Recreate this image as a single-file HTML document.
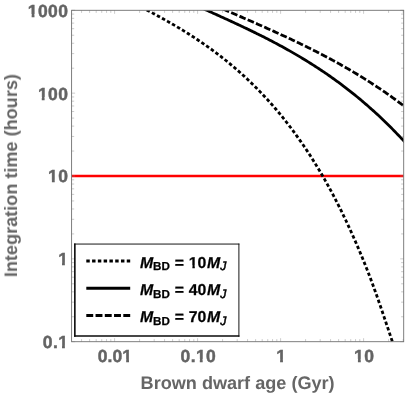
<!DOCTYPE html>
<html><head><meta charset="utf-8"><title>chart</title>
<style>
html,body{margin:0;padding:0;background:#fff;}
body{width:409px;height:394px;overflow:hidden;}
svg{display:block;font-family:"Liberation Sans",sans-serif;}
text{will-change:transform;text-rendering:geometricPrecision;}
.tl{font-size:17.5px;font-weight:bold;fill:#646464;stroke:#646464;stroke-width:0.45px;letter-spacing:0.4px;}
.al{font-size:18.1px;font-weight:bold;fill:#666;}
.lg{font-size:15.8px;font-weight:bold;fill:#000;stroke:#000;stroke-width:0.25px;word-spacing:0.5px;}
.sub{font-size:11.6px;}
</style></head><body>
<svg width="409" height="394" viewBox="0 0 409 394">
<rect width="409" height="394" fill="#fff"/>
<defs><clipPath id="c"><rect x="71.6" y="10.3" width="332.1" height="331.4"/></clipPath></defs>
<g clip-path="url(#c)" fill="none" stroke="#000" stroke-width="2.8">
<line x1="71.6" y1="176.0" x2="403.7" y2="176.0" stroke="#f00" stroke-width="2.6"/>
<path d="M140.00,6.35 L141.53,7.16 L143.07,7.97 L144.60,8.79 L146.14,9.60 L147.67,10.42 L149.21,11.23 L150.74,12.06 L152.28,12.88 L153.81,13.71 L155.35,14.54 L156.88,15.37 L158.42,16.21 L159.95,17.05 L161.49,17.90 L163.02,18.76 L164.56,19.61 L166.09,20.48 L167.63,21.35 L169.16,22.23 L170.70,23.11 L172.23,24.00 L173.77,24.89 L175.30,25.79 L176.84,26.70 L178.37,27.62 L179.91,28.54 L181.44,29.47 L182.98,30.40 L184.51,31.35 L186.05,32.30 L187.58,33.26 L189.12,34.23 L190.65,35.21 L192.18,36.20 L193.72,37.20 L195.25,38.20 L196.79,39.22 L198.32,40.24 L199.86,41.28 L201.39,42.32 L202.93,43.37 L204.46,44.44 L206.00,45.51 L207.53,46.60 L209.07,47.70 L210.60,48.80 L212.14,49.92 L213.67,51.05 L215.21,52.19 L216.74,53.35 L218.28,54.51 L219.81,55.69 L221.35,56.88 L222.88,58.08 L224.42,59.30 L225.95,60.53 L227.49,61.77 L229.02,63.03 L230.56,64.30 L232.09,65.58 L233.63,66.88 L235.16,68.19 L236.70,69.52 L238.23,70.86 L239.77,72.22 L241.30,73.59 L242.83,74.98 L244.37,76.38 L245.90,77.80 L247.44,79.24 L248.97,80.69 L250.51,82.16 L252.04,83.65 L253.58,85.16 L255.11,86.68 L256.65,88.22 L258.18,89.78 L259.72,91.36 L261.25,92.95 L262.79,94.57 L264.32,96.20 L265.86,97.86 L267.39,99.53 L268.93,101.22 L270.46,102.94 L272.00,104.68 L273.53,106.43 L275.07,108.21 L276.60,110.01 L278.14,111.84 L279.67,113.68 L281.21,115.55 L282.74,117.44 L284.28,119.36 L285.81,121.30 L287.35,123.26 L288.88,125.25 L290.41,127.26 L291.95,129.30 L293.48,131.36 L295.02,133.45 L296.55,135.56 L298.09,137.71 L299.62,139.88 L301.16,142.07 L302.69,144.30 L304.23,146.55 L305.76,148.84 L307.30,151.15 L308.83,153.49 L310.37,155.86 L311.90,158.27 L313.44,160.70 L314.97,163.17 L316.51,165.67 L318.04,168.20 L319.58,170.77 L321.11,173.36 L322.65,176.00 L324.18,178.67 L325.72,181.37 L327.25,184.11 L328.79,186.88 L330.32,189.70 L331.86,192.55 L333.39,195.44 L334.93,198.37 L336.46,201.34 L338.00,204.35 L339.53,207.40 L341.06,210.49 L342.60,213.63 L344.13,216.80 L345.67,220.02 L347.20,223.29 L348.74,226.59 L350.27,229.94 L351.81,233.33 L353.34,236.77 L354.88,240.25 L356.41,243.77 L357.95,247.33 L359.48,250.95 L361.02,254.61 L362.55,258.33 L364.09,262.10 L365.62,265.93 L367.16,269.82 L368.69,273.78 L370.23,277.80 L371.76,281.89 L373.30,286.06 L374.83,290.29 L376.37,294.59 L377.90,298.95 L379.44,303.36 L380.97,307.82 L382.51,312.31 L384.04,316.83 L385.58,321.38 L387.11,325.95 L388.65,330.52 L390.18,335.10 L391.71,339.67 L393.25,344.24 L394.78,348.78 L396.32,353.31 L397.85,357.80 L399.39,362.25" stroke-dasharray="3.45 2.33" stroke-dashoffset="3.9"/>
<path d="M189.88,2.68 L191.17,3.26 L192.46,3.85 L193.75,4.43 L195.04,5.01 L196.33,5.59 L197.62,6.18 L198.91,6.76 L200.20,7.34 L201.49,7.92 L202.78,8.50 L204.08,9.09 L205.37,9.67 L206.66,10.25 L207.95,10.83 L209.24,11.41 L210.53,11.99 L211.82,12.57 L213.11,13.16 L214.40,13.74 L215.69,14.32 L216.98,14.90 L218.27,15.49 L219.56,16.07 L220.85,16.66 L222.14,17.24 L223.44,17.83 L224.73,18.42 L226.02,19.01 L227.31,19.60 L228.60,20.19 L229.89,20.78 L231.18,21.38 L232.47,21.97 L233.76,22.57 L235.05,23.17 L236.34,23.77 L237.63,24.38 L238.92,24.98 L240.21,25.59 L241.50,26.19 L242.80,26.80 L244.09,27.41 L245.38,28.03 L246.67,28.64 L247.96,29.26 L249.25,29.88 L250.54,30.50 L251.83,31.13 L253.12,31.75 L254.41,32.38 L255.70,33.02 L256.99,33.65 L258.28,34.29 L259.57,34.93 L260.86,35.58 L262.16,36.22 L263.45,36.87 L264.74,37.53 L266.03,38.19 L267.32,38.85 L268.61,39.51 L269.90,40.18 L271.19,40.85 L272.48,41.52 L273.77,42.20 L275.06,42.88 L276.35,43.57 L277.64,44.26 L278.93,44.95 L280.22,45.65 L281.52,46.35 L282.81,47.06 L284.10,47.77 L285.39,48.48 L286.68,49.20 L287.97,49.92 L289.26,50.65 L290.55,51.38 L291.84,52.12 L293.13,52.86 L294.42,53.60 L295.71,54.35 L297.00,55.11 L298.29,55.87 L299.58,56.63 L300.87,57.40 L302.17,58.18 L303.46,58.96 L304.75,59.74 L306.04,60.53 L307.33,61.33 L308.62,62.13 L309.91,62.94 L311.20,63.75 L312.49,64.57 L313.78,65.39 L315.07,66.22 L316.36,67.06 L317.65,67.90 L318.94,68.74 L320.23,69.60 L321.53,70.46 L322.82,71.32 L324.11,72.20 L325.40,73.08 L326.69,73.96 L327.98,74.85 L329.27,75.75 L330.56,76.66 L331.85,77.57 L333.14,78.49 L334.43,79.41 L335.72,80.34 L337.01,81.28 L338.30,82.23 L339.59,83.18 L340.89,84.14 L342.18,85.11 L343.47,86.08 L344.76,87.06 L346.05,88.05 L347.34,89.05 L348.63,90.05 L349.92,91.06 L351.21,92.08 L352.50,93.11 L353.79,94.14 L355.08,95.18 L356.37,96.23 L357.66,97.29 L358.95,98.36 L360.25,99.43 L361.54,100.52 L362.83,101.61 L364.12,102.71 L365.41,103.82 L366.70,104.93 L367.99,106.05 L369.28,107.19 L370.57,108.33 L371.86,109.47 L373.15,110.63 L374.44,111.79 L375.73,112.97 L377.02,114.15 L378.31,115.34 L379.61,116.54 L380.90,117.75 L382.19,118.96 L383.48,120.19 L384.77,121.44 L386.06,122.69 L387.35,123.95 L388.64,125.22 L389.93,126.51 L391.22,127.81 L392.51,129.12 L393.80,130.44 L395.09,131.77 L396.38,133.11 L397.67,134.45 L398.97,135.80 L400.26,137.15 L401.55,138.51 L402.84,139.88 L404.13,141.24 L405.42,142.61 L406.71,143.98 L408.00,145.34"/>
<path d="M206.50,1.72 L207.70,2.25 L208.89,2.77 L210.08,3.30 L211.27,3.82 L212.47,4.35 L213.66,4.88 L214.85,5.40 L216.04,5.93 L217.23,6.45 L218.43,6.98 L219.62,7.50 L220.81,8.02 L222.00,8.55 L223.20,9.07 L224.39,9.59 L225.58,10.11 L226.77,10.63 L227.97,11.15 L229.16,11.67 L230.35,12.19 L231.54,12.71 L232.73,13.23 L233.93,13.75 L235.12,14.27 L236.31,14.79 L237.50,15.31 L238.70,15.83 L239.89,16.35 L241.08,16.87 L242.27,17.39 L243.46,17.91 L244.66,18.43 L245.85,18.95 L247.04,19.47 L248.23,19.99 L249.43,20.51 L250.62,21.03 L251.81,21.55 L253.00,22.08 L254.20,22.60 L255.39,23.12 L256.58,23.65 L257.77,24.17 L258.96,24.70 L260.16,25.23 L261.35,25.75 L262.54,26.28 L263.73,26.81 L264.93,27.34 L266.12,27.88 L267.31,28.41 L268.50,28.94 L269.70,29.48 L270.89,30.01 L272.08,30.55 L273.27,31.09 L274.46,31.63 L275.66,32.17 L276.85,32.71 L278.04,33.26 L279.23,33.80 L280.43,34.35 L281.62,34.90 L282.81,35.45 L284.00,36.00 L285.19,36.55 L286.39,37.10 L287.58,37.66 L288.77,38.22 L289.96,38.78 L291.16,39.34 L292.35,39.90 L293.54,40.46 L294.73,41.03 L295.93,41.60 L297.12,42.17 L298.31,42.74 L299.50,43.32 L300.69,43.89 L301.89,44.47 L303.08,45.05 L304.27,45.63 L305.46,46.22 L306.66,46.81 L307.85,47.40 L309.04,47.99 L310.23,48.58 L311.42,49.18 L312.62,49.78 L313.81,50.38 L315.00,50.98 L316.19,51.59 L317.39,52.20 L318.58,52.81 L319.77,53.42 L320.96,54.04 L322.16,54.66 L323.35,55.28 L324.54,55.91 L325.73,56.54 L326.92,57.17 L328.12,57.80 L329.31,58.44 L330.50,59.08 L331.69,59.72 L332.89,60.37 L334.08,61.02 L335.27,61.67 L336.46,62.33 L337.66,62.99 L338.85,63.65 L340.04,64.32 L341.23,64.98 L342.42,65.66 L343.62,66.33 L344.81,67.01 L346.00,67.70 L347.19,68.38 L348.39,69.07 L349.58,69.77 L350.77,70.46 L351.96,71.16 L353.15,71.87 L354.35,72.58 L355.54,73.29 L356.73,74.01 L357.92,74.73 L359.12,75.45 L360.31,76.18 L361.50,76.92 L362.69,77.65 L363.89,78.39 L365.08,79.14 L366.27,79.89 L367.46,80.64 L368.65,81.40 L369.85,82.16 L371.04,82.93 L372.23,83.70 L373.42,84.47 L374.62,85.25 L375.81,86.03 L377.00,86.81 L378.19,87.61 L379.39,88.40 L380.58,89.20 L381.77,90.01 L382.96,90.82 L384.15,91.63 L385.35,92.46 L386.54,93.29 L387.73,94.12 L388.92,94.96 L390.12,95.81 L391.31,96.66 L392.50,97.52 L393.69,98.38 L394.88,99.25 L396.08,100.13 L397.27,101.00 L398.46,101.88 L399.65,102.77 L400.85,103.65 L402.04,104.54 L403.23,105.43 L404.42,106.32 L405.62,107.21 L406.81,108.10 L408.00,108.99" stroke-dasharray="6.7 2.3"/>
</g>
<g stroke="#8c8c8c" stroke-width="0.45">
<line x1="81.57" y1="341.70" x2="81.57" y2="339.10"/>
<line x1="81.57" y1="10.30" x2="81.57" y2="12.90"/>
<line x1="89.61" y1="341.70" x2="89.61" y2="339.10"/>
<line x1="89.61" y1="10.30" x2="89.61" y2="12.90"/>
<line x1="96.19" y1="341.70" x2="96.19" y2="339.10"/>
<line x1="96.19" y1="10.30" x2="96.19" y2="12.90"/>
<line x1="101.74" y1="341.70" x2="101.74" y2="339.10"/>
<line x1="101.74" y1="10.30" x2="101.74" y2="12.90"/>
<line x1="106.56" y1="341.70" x2="106.56" y2="339.10"/>
<line x1="106.56" y1="10.30" x2="106.56" y2="12.90"/>
<line x1="110.80" y1="341.70" x2="110.80" y2="339.10"/>
<line x1="110.80" y1="10.30" x2="110.80" y2="12.90"/>
<line x1="114.60" y1="341.70" x2="114.60" y2="338.20"/>
<line x1="114.60" y1="10.30" x2="114.60" y2="13.80"/>
<line x1="139.59" y1="341.70" x2="139.59" y2="339.10"/>
<line x1="139.59" y1="10.30" x2="139.59" y2="12.90"/>
<line x1="154.20" y1="341.70" x2="154.20" y2="339.10"/>
<line x1="154.20" y1="10.30" x2="154.20" y2="12.90"/>
<line x1="164.57" y1="341.70" x2="164.57" y2="339.10"/>
<line x1="164.57" y1="10.30" x2="164.57" y2="12.90"/>
<line x1="172.61" y1="341.70" x2="172.61" y2="339.10"/>
<line x1="172.61" y1="10.30" x2="172.61" y2="12.90"/>
<line x1="179.19" y1="341.70" x2="179.19" y2="339.10"/>
<line x1="179.19" y1="10.30" x2="179.19" y2="12.90"/>
<line x1="184.74" y1="341.70" x2="184.74" y2="339.10"/>
<line x1="184.74" y1="10.30" x2="184.74" y2="12.90"/>
<line x1="189.56" y1="341.70" x2="189.56" y2="339.10"/>
<line x1="189.56" y1="10.30" x2="189.56" y2="12.90"/>
<line x1="193.80" y1="341.70" x2="193.80" y2="339.10"/>
<line x1="193.80" y1="10.30" x2="193.80" y2="12.90"/>
<line x1="197.60" y1="341.70" x2="197.60" y2="338.20"/>
<line x1="197.60" y1="10.30" x2="197.60" y2="13.80"/>
<line x1="222.59" y1="341.70" x2="222.59" y2="339.10"/>
<line x1="222.59" y1="10.30" x2="222.59" y2="12.90"/>
<line x1="237.20" y1="341.70" x2="237.20" y2="339.10"/>
<line x1="237.20" y1="10.30" x2="237.20" y2="12.90"/>
<line x1="247.57" y1="341.70" x2="247.57" y2="339.10"/>
<line x1="247.57" y1="10.30" x2="247.57" y2="12.90"/>
<line x1="255.61" y1="341.70" x2="255.61" y2="339.10"/>
<line x1="255.61" y1="10.30" x2="255.61" y2="12.90"/>
<line x1="262.19" y1="341.70" x2="262.19" y2="339.10"/>
<line x1="262.19" y1="10.30" x2="262.19" y2="12.90"/>
<line x1="267.74" y1="341.70" x2="267.74" y2="339.10"/>
<line x1="267.74" y1="10.30" x2="267.74" y2="12.90"/>
<line x1="272.56" y1="341.70" x2="272.56" y2="339.10"/>
<line x1="272.56" y1="10.30" x2="272.56" y2="12.90"/>
<line x1="276.80" y1="341.70" x2="276.80" y2="339.10"/>
<line x1="276.80" y1="10.30" x2="276.80" y2="12.90"/>
<line x1="280.60" y1="341.70" x2="280.60" y2="338.20"/>
<line x1="280.60" y1="10.30" x2="280.60" y2="13.80"/>
<line x1="305.59" y1="341.70" x2="305.59" y2="339.10"/>
<line x1="305.59" y1="10.30" x2="305.59" y2="12.90"/>
<line x1="320.20" y1="341.70" x2="320.20" y2="339.10"/>
<line x1="320.20" y1="10.30" x2="320.20" y2="12.90"/>
<line x1="330.57" y1="341.70" x2="330.57" y2="339.10"/>
<line x1="330.57" y1="10.30" x2="330.57" y2="12.90"/>
<line x1="338.61" y1="341.70" x2="338.61" y2="339.10"/>
<line x1="338.61" y1="10.30" x2="338.61" y2="12.90"/>
<line x1="345.19" y1="341.70" x2="345.19" y2="339.10"/>
<line x1="345.19" y1="10.30" x2="345.19" y2="12.90"/>
<line x1="350.74" y1="341.70" x2="350.74" y2="339.10"/>
<line x1="350.74" y1="10.30" x2="350.74" y2="12.90"/>
<line x1="355.56" y1="341.70" x2="355.56" y2="339.10"/>
<line x1="355.56" y1="10.30" x2="355.56" y2="12.90"/>
<line x1="359.80" y1="341.70" x2="359.80" y2="339.10"/>
<line x1="359.80" y1="10.30" x2="359.80" y2="12.90"/>
<line x1="363.60" y1="341.70" x2="363.60" y2="338.20"/>
<line x1="363.60" y1="10.30" x2="363.60" y2="13.80"/>
<line x1="388.59" y1="341.70" x2="388.59" y2="339.10"/>
<line x1="388.59" y1="10.30" x2="388.59" y2="12.90"/>
<line x1="403.20" y1="341.70" x2="403.20" y2="339.10"/>
<line x1="403.20" y1="10.30" x2="403.20" y2="12.90"/>
<line x1="71.60" y1="341.70" x2="75.10" y2="341.70"/>
<line x1="403.70" y1="341.70" x2="400.20" y2="341.70"/>
<line x1="71.60" y1="316.76" x2="74.20" y2="316.76"/>
<line x1="403.70" y1="316.76" x2="401.10" y2="316.76"/>
<line x1="71.60" y1="302.17" x2="74.20" y2="302.17"/>
<line x1="403.70" y1="302.17" x2="401.10" y2="302.17"/>
<line x1="71.60" y1="291.82" x2="74.20" y2="291.82"/>
<line x1="403.70" y1="291.82" x2="401.10" y2="291.82"/>
<line x1="71.60" y1="283.79" x2="74.20" y2="283.79"/>
<line x1="403.70" y1="283.79" x2="401.10" y2="283.79"/>
<line x1="71.60" y1="277.23" x2="74.20" y2="277.23"/>
<line x1="403.70" y1="277.23" x2="401.10" y2="277.23"/>
<line x1="71.60" y1="271.68" x2="74.20" y2="271.68"/>
<line x1="403.70" y1="271.68" x2="401.10" y2="271.68"/>
<line x1="71.60" y1="266.88" x2="74.20" y2="266.88"/>
<line x1="403.70" y1="266.88" x2="401.10" y2="266.88"/>
<line x1="71.60" y1="262.64" x2="74.20" y2="262.64"/>
<line x1="403.70" y1="262.64" x2="401.10" y2="262.64"/>
<line x1="71.60" y1="258.85" x2="75.10" y2="258.85"/>
<line x1="403.70" y1="258.85" x2="400.20" y2="258.85"/>
<line x1="71.60" y1="233.91" x2="74.20" y2="233.91"/>
<line x1="403.70" y1="233.91" x2="401.10" y2="233.91"/>
<line x1="71.60" y1="219.32" x2="74.20" y2="219.32"/>
<line x1="403.70" y1="219.32" x2="401.10" y2="219.32"/>
<line x1="71.60" y1="208.97" x2="74.20" y2="208.97"/>
<line x1="403.70" y1="208.97" x2="401.10" y2="208.97"/>
<line x1="71.60" y1="200.94" x2="74.20" y2="200.94"/>
<line x1="403.70" y1="200.94" x2="401.10" y2="200.94"/>
<line x1="71.60" y1="194.38" x2="74.20" y2="194.38"/>
<line x1="403.70" y1="194.38" x2="401.10" y2="194.38"/>
<line x1="71.60" y1="188.83" x2="74.20" y2="188.83"/>
<line x1="403.70" y1="188.83" x2="401.10" y2="188.83"/>
<line x1="71.60" y1="184.03" x2="74.20" y2="184.03"/>
<line x1="403.70" y1="184.03" x2="401.10" y2="184.03"/>
<line x1="71.60" y1="179.79" x2="74.20" y2="179.79"/>
<line x1="403.70" y1="179.79" x2="401.10" y2="179.79"/>
<line x1="71.60" y1="176.00" x2="75.10" y2="176.00"/>
<line x1="403.70" y1="176.00" x2="400.20" y2="176.00"/>
<line x1="71.60" y1="151.06" x2="74.20" y2="151.06"/>
<line x1="403.70" y1="151.06" x2="401.10" y2="151.06"/>
<line x1="71.60" y1="136.47" x2="74.20" y2="136.47"/>
<line x1="403.70" y1="136.47" x2="401.10" y2="136.47"/>
<line x1="71.60" y1="126.12" x2="74.20" y2="126.12"/>
<line x1="403.70" y1="126.12" x2="401.10" y2="126.12"/>
<line x1="71.60" y1="118.09" x2="74.20" y2="118.09"/>
<line x1="403.70" y1="118.09" x2="401.10" y2="118.09"/>
<line x1="71.60" y1="111.53" x2="74.20" y2="111.53"/>
<line x1="403.70" y1="111.53" x2="401.10" y2="111.53"/>
<line x1="71.60" y1="105.98" x2="74.20" y2="105.98"/>
<line x1="403.70" y1="105.98" x2="401.10" y2="105.98"/>
<line x1="71.60" y1="101.18" x2="74.20" y2="101.18"/>
<line x1="403.70" y1="101.18" x2="401.10" y2="101.18"/>
<line x1="71.60" y1="96.94" x2="74.20" y2="96.94"/>
<line x1="403.70" y1="96.94" x2="401.10" y2="96.94"/>
<line x1="71.60" y1="93.15" x2="75.10" y2="93.15"/>
<line x1="403.70" y1="93.15" x2="400.20" y2="93.15"/>
<line x1="71.60" y1="68.21" x2="74.20" y2="68.21"/>
<line x1="403.70" y1="68.21" x2="401.10" y2="68.21"/>
<line x1="71.60" y1="53.62" x2="74.20" y2="53.62"/>
<line x1="403.70" y1="53.62" x2="401.10" y2="53.62"/>
<line x1="71.60" y1="43.27" x2="74.20" y2="43.27"/>
<line x1="403.70" y1="43.27" x2="401.10" y2="43.27"/>
<line x1="71.60" y1="35.24" x2="74.20" y2="35.24"/>
<line x1="403.70" y1="35.24" x2="401.10" y2="35.24"/>
<line x1="71.60" y1="28.68" x2="74.20" y2="28.68"/>
<line x1="403.70" y1="28.68" x2="401.10" y2="28.68"/>
<line x1="71.60" y1="23.13" x2="74.20" y2="23.13"/>
<line x1="403.70" y1="23.13" x2="401.10" y2="23.13"/>
<line x1="71.60" y1="18.33" x2="74.20" y2="18.33"/>
<line x1="403.70" y1="18.33" x2="401.10" y2="18.33"/>
<line x1="71.60" y1="14.09" x2="74.20" y2="14.09"/>
<line x1="403.70" y1="14.09" x2="401.10" y2="14.09"/>
<line x1="71.60" y1="10.30" x2="75.10" y2="10.30"/>
<line x1="403.70" y1="10.30" x2="400.20" y2="10.30"/>
</g>
<rect x="71.6" y="10.3" width="332.1" height="331.4" fill="none" stroke="#707070" stroke-width="0.9"/>
<!-- legend -->
<rect x="74.1" y="243.6" width="165.3" height="93.2" fill="#fff"/>
<g stroke="#0a0a0a" fill="none">
<line x1="74.05" y1="244.05" x2="239.4" y2="244.05" stroke-width="0.95"/>
<line x1="238.9" y1="243.6" x2="238.9" y2="336.85" stroke-width="0.95"/>
<line x1="74.85" y1="243.6" x2="74.85" y2="336.85" stroke-width="1.6"/>
<line x1="74.05" y1="336.05" x2="239.4" y2="336.05" stroke-width="1.6"/>
</g>
<g stroke="#000" stroke-width="2.8" fill="none">
<line x1="86.3" y1="261.0" x2="130.2" y2="261.0" stroke-dasharray="3.45 2.33"/>
<line x1="86.3" y1="288.25" x2="130.2" y2="288.25"/>
<line x1="86.3" y1="315.5" x2="130.2" y2="315.5" stroke-dasharray="6.9 2.35"/>
</g>
<g class="lg">
<text x="139.9" y="267.65"><tspan font-style="italic">M</tspan><tspan class="sub" dy="2.8">BD</tspan><tspan dy="-2.8"> = 10</tspan><tspan font-style="italic" dx="0.6">M</tspan><tspan class="sub" style="font-size:12.2px" font-style="italic" font-weight="normal" stroke-width="0.5" dy="2.8">J</tspan></text>
<text x="139.9" y="294.9"><tspan font-style="italic">M</tspan><tspan class="sub" dy="2.8">BD</tspan><tspan dy="-2.8"> = 40</tspan><tspan font-style="italic" dx="0.6">M</tspan><tspan class="sub" style="font-size:12.2px" font-style="italic" font-weight="normal" stroke-width="0.5" dy="2.8">J</tspan></text>
<text x="139.9" y="322.15"><tspan font-style="italic">M</tspan><tspan class="sub" dy="2.8">BD</tspan><tspan dy="-2.8"> = 70</tspan><tspan font-style="italic" dx="0.6">M</tspan><tspan class="sub" style="font-size:12.2px" font-style="italic" font-weight="normal" stroke-width="0.5" dy="2.8">J</tspan></text>
</g>
<!-- y tick labels -->
<g class="tl" text-anchor="end">
<text x="68.3" y="16.75">1000</text>
<text x="68.3" y="99.60">100</text>
<text x="68.3" y="182.45">10</text>
<text x="68.3" y="265.30">1</text>
<text x="68.3" y="348.15">0.1</text>
</g>
<g class="tl" text-anchor="middle">
<text style="letter-spacing:0.1px" x="114.9" y="361.5">0.01</text>
<text x="198.4" y="361.5">0.10</text>
<text x="281.3" y="361.5">1</text>
<text x="364.2" y="361.5">10</text>
</g>
<text class="al" text-anchor="middle" x="237.6" y="388.85">Brown dwarf age (Gyr)</text>
<text class="al" text-anchor="middle" transform="translate(17.0,175.6) rotate(-90)">Integration time (hours)</text>
<g fill="#fff">
<rect x="188.49" y="265.31" width="3.89" height="4.06"/>
<rect x="194.80" y="265.31" width="3.39" height="4.06"/>
<rect x="27.45" y="14.14" width="4.18" height="4.44"/>
<rect x="34.48" y="14.14" width="3.66" height="4.44"/>
<rect x="37.57" y="96.99" width="4.18" height="4.44"/>
<rect x="44.60" y="96.99" width="3.66" height="4.44"/>
<rect x="47.71" y="179.84" width="4.18" height="4.44"/>
<rect x="54.74" y="179.84" width="3.66" height="4.44"/>
<rect x="57.84" y="262.69" width="4.18" height="4.44"/>
<rect x="64.87" y="262.69" width="3.66" height="4.44"/>
<rect x="57.84" y="345.54" width="4.18" height="4.44"/>
<rect x="64.87" y="345.54" width="3.66" height="4.44"/>
<rect x="121.97" y="358.89" width="4.18" height="4.44"/>
<rect x="129.00" y="358.89" width="3.66" height="4.44"/>
<rect x="195.63" y="358.89" width="4.18" height="4.44"/>
<rect x="202.67" y="358.89" width="3.66" height="4.44"/>
<rect x="275.91" y="358.89" width="4.18" height="4.44"/>
<rect x="282.94" y="358.89" width="3.66" height="4.44"/>
<rect x="353.74" y="358.89" width="4.18" height="4.44"/>
<rect x="360.78" y="358.89" width="3.66" height="4.44"/>
</g>
</svg>
</body></html>
